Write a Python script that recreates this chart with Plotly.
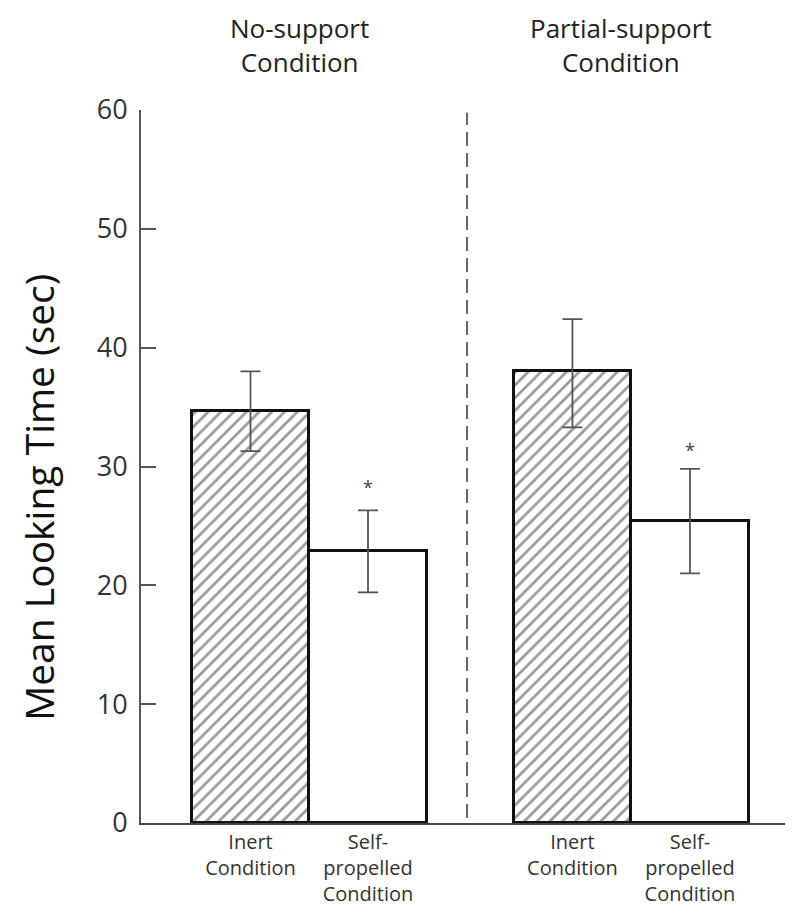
import plotly.graph_objects as go

conditions = ["No-support<br>Condition", "Partial-support<br>Condition"]
bar_labels = ["Inert<br>Condition", "Self-<br>propelled<br>Condition",
              "Inert<br>Condition", "Self-<br>propelled<br>Condition"]
bar_x = [1.0, 2.0, 3.74, 4.74]
means = [34.7, 22.9, 38.0, 25.4]
err_plus = [3.3, 3.4, 4.4, 4.4]
err_minus = [3.4, 3.5, 4.7, 4.4]
hatched = [True, False, True, False]
star_x = [2.0, 4.74]
star_y = [28.1, 31.2]
divider_x = 2.843
group_centers = [1.42, 4.15]
y_title = "Mean Looking Time (sec)"

fig = go.Figure()

fig.add_trace(go.Bar(
    x=bar_x, y=means, width=1.0,
    marker=dict(
        color="white",
        line=dict(color="#111111", width=3),
        pattern=dict(
            shape=["/" if h else "" for h in hatched],
            fgcolor="#333333", bgcolor="white", size=9, solidity=0.3,
        ),
    ),
    error_y=dict(type="data", array=err_plus, arrayminus=err_minus,
                 color="#555555", thickness=1.8, width=10, symmetric=False),
    showlegend=False, hoverinfo="skip",
))

fig.add_trace(go.Scatter(
    x=star_x, y=star_y, mode="text", text=["*", "*"],
    textfont=dict(family="Open Sans", size=18, color="#444444"),
    showlegend=False, hoverinfo="skip",
))

fig.add_shape(type="line", xref="x", yref="paper", x0=divider_x, x1=divider_x,
              y0=0.007, y1=0.996, line=dict(color="#666666", width=2, dash="14px,7px"))

for cx, label in zip(group_centers, conditions):
    fig.add_annotation(x=cx, xref="x", y=1.0, yref="paper", yshift=65,
                       text=label, showarrow=False, borderpad=0,
                       font=dict(family="Open Sans", size=26, color="#222222"),
                       yanchor="middle")

fig.add_annotation(x=0, xref="paper", xshift=-102, y=0.456, yref="paper",
                   text=y_title, textangle=-90, showarrow=False, borderpad=0,
                   xanchor="center", yanchor="middle",
                   font=dict(family="Open Sans", size=39, color="#111111"))

fig.update_layout(
    width=800, height=913,
    margin=dict(l=133, r=23, t=102, b=98),
    plot_bgcolor="white", paper_bgcolor="white",
    font=dict(family="Open Sans", color="#222222"),
    bargap=0,
)
fig.update_xaxes(
    range=[0.068, 5.549], tickvals=bar_x, ticktext=bar_labels,
    tickfont=dict(family="Open Sans", size=20, color="#333333"),
    showline=True, linecolor="#444444", linewidth=2,
    ticks="", showgrid=False, zeroline=False,
)
fig.update_yaxes(
    range=[0, 60], tickvals=[0, 10, 20, 30, 40, 50, 60],
    tickfont=dict(family="Open Sans", size=27, color="#333333"),
    ticks="inside", ticklen=15, tickwidth=2, tickcolor="#555555",
    ticklabelstandoff=6,
    showline=True, linecolor="#555555", linewidth=2,
    showgrid=False, zeroline=False,
)

fig.write_html("out.html")
